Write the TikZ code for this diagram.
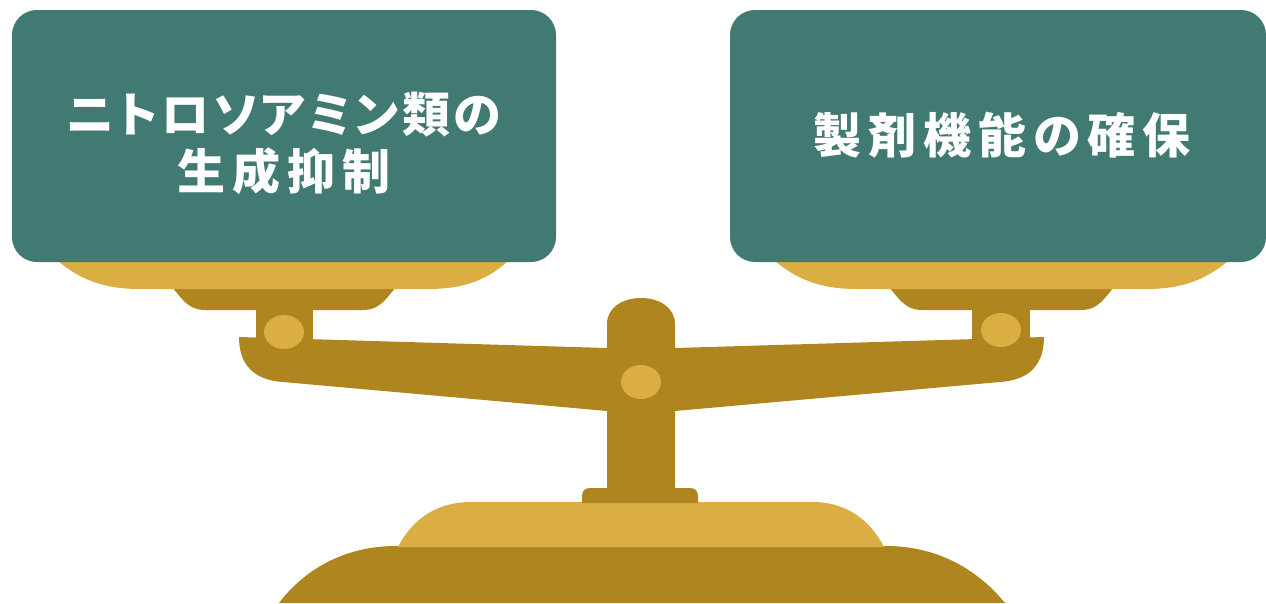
\documentclass[tikz,border=0pt]{standalone}
\usepackage{fontspec}
\newfontfamily\jpfont[RawFeature=+palt]{Noto Sans CJK JP}
\definecolor{panteal}{HTML}{417A72}
\definecolor{goldlight}{HTML}{DAAE42}
\definecolor{golddark}{HTML}{AF8520}
\newcommand\gap{\kern 7pt}
\newcommand\kgap{\kern 3.5pt}
\begin{document}
\begin{tikzpicture}[x=1pt,y=-1pt,
  tray/.style={fill=panteal, rounded corners=25pt},
  label/.style={text=white, font=\jpfont\bfseries\fontsize{48}{57}\selectfont, align=center, inner sep=0pt},
  light/.style={fill=goldlight},
  dark/.style={fill=golddark},
  pin/.style={fill=goldlight, x radius=20pt, y radius=17pt}]
\useasboundingbox (0,0) rectangle (1266,603);

% ---- lower base and pedestal ----
\fill[dark] (279,603) .. controls (304,570) and (344,546) .. (396,546)
  -- (886,546) .. controls (938,546) and (978,570) .. (1005,603) -- cycle;
\fill[light] (398,547) .. controls (414,516) and (440,502) .. (471,502)
  -- (813,502) .. controls (842,502) and (868,516) .. (884,547) -- cycle;
\fill[dark] (582,503) -- (582,496) .. controls (582,491) and (585,488) .. (590,488)
  -- (690,488) .. controls (695,488) and (698,491) .. (698,496) -- (698,503) -- cycle;

% ---- central pillar ----
\fill[dark] (607,495) -- (607,324) .. controls (607,308) and (622,298) .. (641,298)
  .. controls (660,298) and (675,308) .. (675,324) -- (675,495) -- cycle;

% ---- beam ----
\fill[dark] (239,337) -- (607,348) -- (675,348) -- (1044,337)
  .. controls (1044,364) and (1030,380) .. (1000,382)
  -- (675,411) -- (607,411) -- (283,382)
  .. controls (253,380) and (239,364) .. (239,337) -- cycle;

% ---- left hanger and pan ----
\fill[dark] (256,300) rectangle (313,345);
\fill[dark] (173,288) .. controls (186,305) and (192,310) .. (206,310)
  -- (362,310) .. controls (376,310) and (382,305) .. (395,288) -- cycle;
\fill[light] (58,258) -- (508,258) -- (508,261)
  .. controls (485,282) and (460,289) .. (428,289)
  -- (140,289) .. controls (108,289) and (83,282) .. (58,261) -- cycle;

% ---- right hanger and pan ----
\fill[dark] (972,300) rectangle (1030,345);
\fill[dark] (890,288) .. controls (903,305) and (909,310) .. (923,310)
  -- (1080,310) .. controls (1094,310) and (1100,305) .. (1113,288) -- cycle;
\fill[light] (775,258) -- (1228,258) -- (1228,261)
  .. controls (1203,282) and (1178,289) .. (1146,289)
  -- (857,289) .. controls (825,289) and (800,282) .. (775,261) -- cycle;

% ---- pivot pins ----
\fill[pin] (284,332) ellipse [];
\fill[pin] (641,382) ellipse [];
\fill[pin] (1001,330) ellipse [];

% ---- trays with captions ----
\fill[tray] (12,10) rectangle (556,262);
\fill[tray] (730,10) rectangle (1266,262);

\node[label] (leftcap) at (284,143)
  {ニ\kgap ト\kgap ロ\kgap ソ\kgap ア\kgap ミ\kgap ン\kgap 類\kgap の\\生\gap 成\gap 抑\gap 制};
\node[label] (rightcap) at (1002,135)
  {製\gap 剤\gap 機\gap 能\gap の\gap 確\gap 保};
\end{tikzpicture}
\end{document}
